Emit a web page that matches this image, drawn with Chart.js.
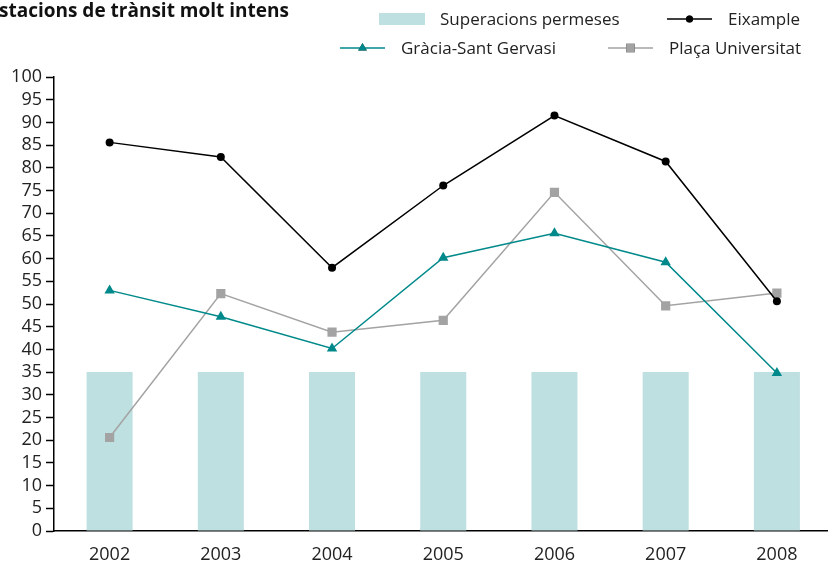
<!DOCTYPE html>
<html>
<head>
<meta charset="utf-8">
<script src="https://cdn.jsdelivr.net/npm/chart.js@4/dist/chart.umd.min.js"></script>
<style>
  html, body { margin: 0; padding: 0; background: #fff; overflow: hidden; }
  #wrap { width: 839px; height: 566px; }
</style>
</head>
<body>
<div id="wrap"><canvas id="chart"></canvas></div>
<script>
const years = ['2002', '2003', '2004', '2005', '2006', '2007', '2008'];
const superacions = [35, 35, 35, 35, 35, 35, 35];
const eixample = [85.6, 82.4, 58, 76.1, 91.5, 81.4, 50.6];
const gracia = [53, 47.2, 40.2, 60.2, 65.6, 59.2, 34.8];
const placaUniv = [20.6, 52.3, 43.8, 46.4, 74.6, 49.6, 52.4];
const yTicks = [0, 5, 10, 15, 20, 25, 30, 35, 40, 45, 50, 55, 60, 65, 70, 75, 80, 85, 90, 95, 100];

const FONT = '"Open Sans", "Noto Sans", sans-serif';

// title is cut off on the left in the original, keep it that way
const titlePlugin = {
  id: 'titleText',
  afterDraw(chart) {
    let ctx = chart.ctx;
    ctx.save();
    ctx.font = 'bold 19px ' + FONT;
    ctx.fillStyle = '#111';
    ctx.textBaseline = 'alphabetic';
    ctx.textAlign = 'left';
    let w = ctx.measureText('E').width;
    ctx.fillText('Estacions de trànsit molt intens', -w - 1, 17);
    ctx.restore();
  }
};

// two-row legend laid out like the source
const legendPlugin = {
  id: 'twoRowLegend',
  afterDraw(chart) {
    let ctx = chart.ctx;
    let ds = chart.data.datasets;
    let items = [
      { d: ds[0], x: 379, y: 19 },
      { d: ds[1], x: 667, y: 19 },
      { d: ds[2], x: 340, y: 48 },
      { d: ds[3], x: 608, y: 48 }
    ];
    ctx.save();
    ctx.font = '17px ' + FONT;
    ctx.textBaseline = 'middle';
    items.forEach((it) => {
      let d = it.d;
      if (d.type === 'bar') {
        ctx.fillStyle = d.backgroundColor;
        ctx.fillRect(it.x, it.y - 6, 46, 12);
      } else {
        ctx.strokeStyle = d.borderColor;
        ctx.lineWidth = d.borderWidth;
        ctx.beginPath();
        ctx.moveTo(it.x, it.y);
        ctx.lineTo(it.x + 45, it.y);
        ctx.stroke();
        Chart.helpers.drawPoint(ctx, {
          pointStyle: d.pointStyle,
          radius: d.legendRadius,
          borderWidth: 0,
          rotation: 0
        }, it.x + 22.5, it.y);
        ctx.fillStyle = d.pointBackgroundColor;
        ctx.fill();
      }
      ctx.fillStyle = '#222';
      ctx.fillText(d.label, it.x + 61, it.y + 1);
    });
    ctx.restore();
  }
};

new Chart(document.getElementById('chart'), {
  data: {
    labels: years,
    datasets: [
      {
        type: 'bar',
        label: 'Superacions permeses',
        data: superacions,
        backgroundColor: '#bfe0e1',
        barPercentage: 0.414,
        categoryPercentage: 1,
        order: 4
      },
      {
        type: 'line',
        label: 'Eixample',
        data: eixample,
        borderColor: '#000',
        borderWidth: 1.5,
        pointStyle: 'circle',
        pointRadius: 4,
        legendRadius: 3.5,
        pointBackgroundColor: '#000',
        pointBorderWidth: 0,
        order: 1
      },
      {
        type: 'line',
        label: 'Gràcia-Sant Gervasi',
        data: gracia,
        borderColor: '#00898a',
        borderWidth: 1.5,
        pointStyle: 'triangle',
        pointRadius: 6,
        legendRadius: 5,
        pointBackgroundColor: '#00898a',
        pointBorderWidth: 0,
        order: 2
      },
      {
        type: 'line',
        label: 'Plaça Universitat',
        data: placaUniv,
        borderColor: '#a3a3a3',
        borderWidth: 1.5,
        pointStyle: 'rect',
        pointRadius: 6.5,
        legendRadius: 6,
        pointBackgroundColor: '#a3a3a3',
        pointBorderWidth: 0,
        order: 3
      }
    ]
  },
  options: {
    responsive: true,
    maintainAspectRatio: false,
    animation: false,
    layout: { padding: { top: 77, right: 0, bottom: 0, left: 0 } },
    plugins: {
      legend: { display: false },
      title: { display: false },
      tooltip: { enabled: false }
    },
    scales: {
      x: {
        grid: { display: false, drawTicks: false },
        border: { color: '#000', width: 1.5 },
        ticks: { color: '#222', font: { family: FONT, size: 18 }, padding: 13, autoSkip: false, maxRotation: 0 },
        afterFit: (scale) => { scale.height = 35; }
      },
      y: {
        min: 0,
        max: 100,
        afterBuildTicks: (scale) => { scale.ticks = yTicks.map((v) => ({ value: v })); },
        grid: { drawOnChartArea: false, tickLength: 8, tickColor: '#000', tickWidth: 1.5 },
        border: { color: '#000', width: 1.5 },
        ticks: { color: '#222', font: { family: FONT, size: 18 }, padding: 4, autoSkip: false },
        afterFit: (scale) => { scale.width = 54; }
      }
    }
  },
  plugins: [titlePlugin, legendPlugin]
});
</script>
</body>
</html>
